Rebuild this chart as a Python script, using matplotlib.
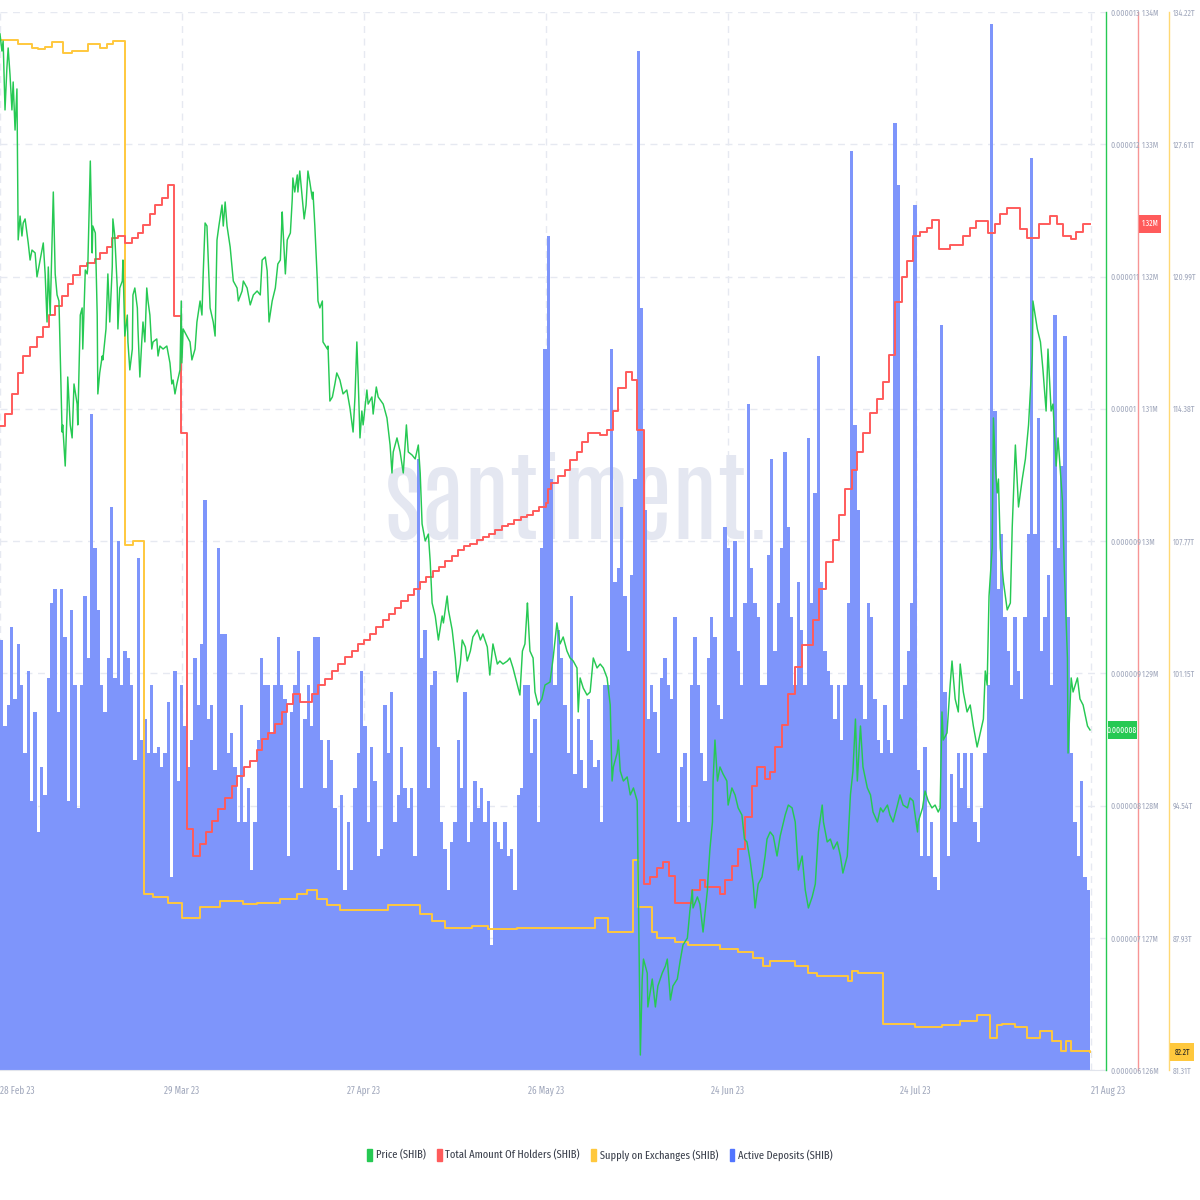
import datetime as dt
import numpy as np
import matplotlib
matplotlib.use("Agg")
import matplotlib.pyplot as plt
import matplotlib.dates as mdates
from matplotlib.patches import Patch, Rectangle
from matplotlib import font_manager
from matplotlib.ticker import FixedLocator, FixedFormatter

# ---- fonts: the reference uses a very narrow face, take the first one installed
avail = {f.name for f in font_manager.fontManager.ttflist}


def pick(cands, default="DejaVu Sans"):
    return next((c for c in cands if c in avail), default)


narrow = pick(["Fira Sans Extra Condensed", "Roboto Condensed", "Archivo Narrow",
               "Liberation Sans Narrow"])
wm_font = pick(["Antonio", "Oswald", "Roboto Condensed"], narrow)
plt.rcParams["font.family"] = [narrow, "DejaVu Sans"]

# ---- data (days after 28 Feb 2023)
date_ticks = [0, 29, 58, 87, 116, 146, 174]

price_day = [0.0, 0.3, 0.5, 0.8, 1.1, 1.3, 1.6, 1.9, 2.1, 2.4, 2.7, 2.9, 3.2, 3.5, 3.7, 4.0, 4.5, 4.8,
             5.1, 5.6, 5.9, 6.4, 6.9, 7.2, 7.5, 7.7, 8.0, 8.5, 8.8, 9.1, 9.4, 9.9, 10.0, 10.4, 10.7,
             10.8, 11.2, 11.5, 11.8, 12.3, 12.4, 12.8, 13.1, 13.2, 13.6, 13.9, 14.0, 14.4, 14.7, 14.8,
             15.2, 15.5, 15.6, 15.9, 16.3, 16.4, 16.9, 17.2, 17.5, 17.9, 18.0, 18.3, 18.7, 18.8, 19.1,
             19.5, 19.6, 19.9, 20.3, 20.4, 20.7, 21.1, 21.2, 21.5, 21.9, 22.0, 22.3, 22.6, 22.8, 23.1,
             23.4, 23.6, 23.9, 24.2, 24.4, 25.0, 25.2, 25.5, 26.0, 26.6, 27.1, 27.4, 27.6, 27.9, 28.2,
             28.7, 28.9, 29.0, 29.2, 29.8, 30.3, 30.6, 31.1, 31.4, 31.9, 32.2, 32.4, 32.7, 33.0, 33.5,
             34.0, 34.3, 34.6, 34.9, 35.4, 35.6, 35.9, 36.2, 36.7, 37.0, 37.2, 37.8, 38.0, 38.6, 38.8,
             39.4, 39.9, 40.4, 41.0, 41.5, 41.8, 42.3, 42.6, 42.9, 43.4, 43.9, 44.3, 44.7, 45.0, 45.1,
             45.5, 45.8, 46.3, 46.6, 46.7, 47.0, 47.4, 47.5, 47.8, 48.2, 48.5, 48.8, 49.1, 49.4, 49.8,
             49.9, 50.2, 50.6, 50.7, 51.0, 51.4, 51.5, 52.2, 52.3, 52.6, 53.0, 53.4, 53.7, 54.2, 54.7,
             55.3, 55.8, 56.3, 56.6, 56.9, 57.1, 57.4, 57.7, 57.9, 58.5, 58.7, 59.3, 59.5, 60.0, 60.3,
             61.1, 61.7, 62.2, 62.5, 62.7, 63.3, 63.8, 64.3, 64.8, 65.1, 65.7, 66.2, 66.7, 67.0, 67.3,
             67.8, 68.3, 68.6, 68.9, 69.4, 69.9, 70.5, 70.7, 71.3, 71.5, 72.1, 72.6, 72.9, 73.4, 73.7,
             74.2, 74.5, 75.0, 75.4, 76.1, 76.6, 77.0, 77.7, 78.1, 78.6, 79.3, 79.7, 80.2, 80.9, 81.3,
             81.8, 82.5, 82.9, 83.3, 83.7, 84.1, 84.2, 84.5, 85.0, 85.3, 85.8, 86.4, 86.9, 87.7, 88.2,
             88.8, 89.3, 89.8, 90.4, 90.9, 91.4, 92.0, 92.2, 92.5, 93.0, 93.6, 94.1, 94.6, 95.2, 95.7,
             96.2, 96.8, 97.3, 97.6, 97.8, 98.4, 98.6, 98.9, 99.4, 100.0, 100.5, 101.0, 101.6, 101.8,
             102.1, 102.4, 102.6, 103.2, 103.3, 104.0, 104.5, 104.9, 105.6, 106.1, 106.4, 106.9, 107.3,
             108.0, 108.5, 108.9, 109.6, 110.0, 110.4, 110.5, 111.2, 111.6, 112.1, 112.8, 112.9, 113.2,
             113.6, 113.7, 114.0, 114.4, 114.8, 115.3, 115.9, 116.1, 116.7, 117.2, 117.7, 118.3, 118.7,
             119.1, 119.6, 120.1, 120.4, 120.9, 121.5, 122.0, 122.3, 122.8, 123.3, 123.9, 124.4, 125.2,
             125.7, 126.3, 126.8, 127.3, 127.9, 128.4, 128.9, 129.5, 130.0, 130.5, 131.1, 131.3, 131.9,
             132.4, 132.9, 133.5, 134.0, 134.4, 135.1, 135.6, 136.0, 136.4, 136.7, 137.2, 137.6, 138.3,
             138.8, 139.2, 139.9, 140.4, 140.8, 141.5, 141.9, 142.4, 143.1, 143.5, 144.0, 144.7, 145.1,
             145.6, 146.3, 146.4, 147.1, 147.5, 148.0, 148.6, 149.1, 149.6, 149.9, 150.2, 150.4, 151.0,
             151.5, 151.8, 152.3, 152.8, 153.1, 153.6, 154.2, 154.7, 155.2, 155.8, 156.3, 156.8, 157.1,
             157.4, 157.7, 158.2, 158.4, 158.7, 159.0, 159.2, 159.5, 160.0, 160.6, 161.1, 161.4, 161.9,
             162.4, 163.0, 163.5, 164.0, 164.6, 164.7, 165.4, 165.9, 166.3, 166.8, 167.1, 167.6, 167.9,
             168.4, 168.7, 169.4, 169.7, 170.2, 170.3, 170.8, 171.1, 171.8, 172.2, 172.7, 173.4, 173.8]
# price in millionths of a dollar
price_u = [12.855, 12.742, 12.808, 12.352, 12.630, 12.762, 12.583, 12.352, 12.537, 12.219, 12.491,
           11.492, 11.650, 11.518, 11.604, 11.631, 11.472, 11.359, 11.425, 11.406, 11.247, 11.359,
           11.472, 11.267, 10.949, 11.313, 10.995, 11.809, 11.267, 11.128, 11.088, 10.221, 10.268,
           9.996, 10.360, 10.585, 10.268, 10.182, 10.539, 10.406, 10.268, 10.995, 11.042, 10.770,
           11.293, 11.267, 11.313, 12.014, 11.406, 11.584, 11.538, 10.995, 10.473, 10.612, 10.724,
           10.698, 10.903, 11.267, 10.949, 11.313, 11.631, 11.518, 11.174, 10.903, 11.174, 11.220,
           11.359, 10.856, 10.995, 10.817, 10.632, 10.770, 11.128, 11.174, 11.042, 10.903, 10.585,
           10.817, 10.949, 10.817, 11.174, 11.088, 10.995, 10.770, 10.817, 10.837, 10.724, 10.790,
           10.770, 10.790, 10.678, 10.539, 10.565, 10.473, 10.539, 10.632, 11.088, 10.678, 10.903,
           10.856, 10.817, 10.698, 10.770, 10.949, 11.088, 10.995, 11.267, 11.604, 11.584, 11.042,
           10.949, 10.856, 11.492, 11.584, 11.723, 11.584, 11.743, 11.584, 11.445, 11.313, 11.220,
           11.174, 11.088, 11.154, 11.220, 11.174, 11.062, 11.128, 11.154, 11.128, 11.359, 11.379,
           11.287, 10.949, 11.088, 11.174, 11.333, 11.359, 11.677, 11.584, 11.267, 11.492, 11.538,
           11.763, 11.902, 11.809, 11.922, 11.809, 11.948, 11.763, 11.631, 11.723, 11.948, 11.875,
           11.763, 11.809, 11.584, 11.220, 11.088, 11.042, 11.088, 10.817, 10.770, 10.790, 10.426,
           10.453, 10.539, 10.612, 10.565, 10.473, 10.499, 10.380, 10.221, 10.453, 10.817, 10.585,
           10.182, 10.360, 10.268, 10.499, 10.406, 10.453, 10.340, 10.519, 10.453, 10.406, 10.314,
           10.135, 9.950, 10.089, 10.182, 10.089, 9.950, 10.268, 10.089, 10.069, 10.043, 10.135,
           9.950, 9.613, 9.500, 9.546, 9.361, 9.090, 9.004, 8.845, 9.004, 8.958, 9.136, 9.044,
           8.911, 8.726, 8.567, 8.686, 8.845, 8.799, 8.706, 8.772, 8.865, 8.911, 8.845, 8.885,
           8.799, 8.613, 8.819, 8.686, 8.706, 8.686, 8.706, 8.726, 8.660, 8.547, 8.481, 8.772,
           8.819, 9.090, 9.004, 8.772, 8.726, 8.501, 8.415, 8.455, 8.547, 8.567, 8.726, 8.958,
           8.819, 8.865, 8.772, 8.726, 8.706, 8.660, 8.369, 8.594, 8.527, 8.481, 8.501, 8.726,
           8.660, 8.686, 8.660, 8.594, 8.415, 7.912, 8.005, 8.097, 8.183, 7.978, 7.912, 7.939,
           7.820, 7.866, 7.780, 7.145, 6.099, 6.602, 6.734, 6.642, 6.417, 6.602, 6.417, 6.556,
           6.642, 6.688, 6.734, 6.463, 6.556, 6.602, 6.734, 6.827, 6.873, 7.052, 7.191, 7.072,
           7.145, 7.098, 6.913, 7.191, 7.277, 7.462, 7.641, 7.912, 8.183, 7.912, 8.005, 7.958,
           7.912, 7.753, 7.866, 7.820, 7.734, 7.687, 7.528, 7.509, 7.389, 7.231, 7.072, 7.231,
           7.277, 7.416, 7.528, 7.575, 7.548, 7.416, 7.548, 7.687, 7.753, 7.734, 7.641, 7.323,
           7.416, 7.191, 7.072, 7.145, 7.231, 7.575, 7.753, 7.641, 7.509, 7.528, 7.462, 7.509,
           7.416, 7.303, 7.416, 7.820, 7.978, 8.322, 7.912, 8.276, 8.005, 7.866, 7.820, 7.707,
           7.641, 7.734, 7.707, 7.753, 7.687, 7.641, 7.753, 7.820, 7.753, 7.734, 7.800, 7.780,
           7.575, 7.641, 7.734, 7.846, 7.780, 7.734, 7.753, 7.707, 7.734, 8.369, 8.183, 8.230,
           8.547, 8.706, 8.455, 8.369, 8.686, 8.501, 8.369, 8.415, 8.276, 8.137, 8.230, 8.322,
           8.640, 8.547, 9.136, 9.454, 10.314, 9.996, 9.818, 9.910, 9.454, 9.229, 9.044, 9.090,
           9.593, 10.135, 9.725, 9.910, 10.043, 10.268, 10.724, 11.088, 10.903, 10.817, 10.632,
           10.360, 10.770, 10.360, 10.406, 9.996, 10.182, 9.771, 9.321, 8.726, 8.097, 8.594,
           8.501, 8.594, 8.455, 8.415, 8.276, 8.250]

holders_day = [0.0, 0.8, 1.9, 2.9, 3.7, 4.8, 5.9, 6.9, 7.8, 8.8, 9.9, 10.8, 11.6, 12.8, 13.9, 15.2,
               15.9, 17.1, 17.9, 18.8, 19.9, 21.1, 22.0, 22.8, 23.9, 24.7, 25.8, 26.8, 27.8, 28.9,
               29.8, 30.8, 31.9, 32.9, 33.8, 34.8, 35.9, 37.0, 37.8, 38.9, 39.9, 41.0, 41.8, 42.7,
               43.9, 45.0, 45.8, 46.7, 47.8, 49.8, 50.7, 51.8, 53.0, 53.9, 55.0, 56.1, 57.1,
               58, 59, 60, 61, 62, 63, 64, 65, 66, 67, 68, 69, 70, 71, 72, 73, 74, 75, 76, 77,
               78, 79, 80, 81, 82, 83, 84, 85, 86, 87, 87.3, 87.8, 89.0, 90.1, 90.9, 92.0, 92.8,
               93.8, 95.7, 96.8, 97.8, 98.6, 99.8, 100.8, 101.6, 102.7, 103.7, 104.8, 105.7, 106.7,
               107.7, 110.4, 111.6, 112.4, 114.8, 115.6, 116.7, 117.7, 118.8, 119.9, 120.7, 121.9,
               122.8, 123.6, 124.7, 125.7, 126.8, 127.9, 129.7, 130.6, 131.7, 132.9, 133.7, 134.8,
               135.9, 136.7, 137.6, 138.8, 139.9, 140.8, 141.8, 142.7, 143.9, 144.7, 145.6, 146.7,
               147.8, 148.6, 149.8, 151.5, 153.6, 154.7, 155.7, 157.6, 158.7, 159.5, 160.6, 162.7,
               163.8, 165.6, 167.5, 168.6, 169.5, 170.7, 171.6, 172.7, 173.8]
# holders in thousands
holders_k = [1308.7, 1309.6, 1311.1, 1312.7, 1314.0, 1314.7, 1315.4, 1316.2, 1317.1, 1317.8, 1318.5,
             1319.4, 1320.1, 1320.8, 1321.0, 1321.3, 1321.8, 1322.2, 1322.9, 1323.1, 1322.5, 1322.9,
             1323.3, 1323.9, 1324.7, 1325.4, 1325.9, 1326.9, 1317.0, 1308.2, 1278.2, 1276.2, 1277.1,
             1278.0, 1278.8, 1279.7, 1280.6, 1281.5, 1282.2, 1282.9, 1283.4, 1284.2, 1285.0, 1285.5,
             1286.2, 1287.1, 1287.7, 1288.4, 1287.8, 1288.4, 1289.1, 1289.6, 1290.2, 1290.7, 1291.2,
             1291.7, 1292.2,
             1292.5, 1293.0, 1293.5, 1294.0, 1294.5, 1294.9, 1295.5, 1295.9, 1296.4, 1296.9, 1297.3,
             1297.7, 1298.0, 1298.5, 1298.9, 1299.3, 1299.6, 1299.8, 1300.1, 1300.3, 1300.5, 1300.8,
             1301.1, 1301.3, 1301.6, 1301.8, 1302.0, 1302.3, 1302.6, 1302.9, 1303.9, 1304.4, 1304.9,
             1305.4, 1306.1, 1306.7, 1307.5, 1308.2, 1308.0, 1308.4, 1309.8, 1311.6, 1312.8, 1312.2,
             1308.4, 1274.1, 1274.6, 1275.3, 1275.7, 1274.7, 1272.6, 1273.6, 1274.4, 1273.8, 1273.3,
             1274.4, 1275.4, 1276.7, 1279.1, 1281.5, 1282.9, 1282.0, 1282.5, 1284.4, 1286.1, 1288.4,
             1290.5, 1292.1, 1294.0, 1296.4, 1298.4, 1300.1, 1302.0, 1303.9, 1305.4, 1306.7, 1308.2,
             1309.7, 1310.7, 1312.0, 1314.1, 1318.1, 1320.0, 1321.2, 1323.1, 1323.4, 1323.7, 1324.3,
             1322.1, 1322.4, 1323.1, 1323.7, 1324.2, 1323.3, 1324.0, 1324.7, 1325.2, 1323.6, 1322.9,
             1324.0, 1324.6, 1324.0, 1323.1, 1322.8, 1323.4, 1324.0, 1324.0]

supply_day = [0.0, 2.9, 5.1, 6.1, 7.2, 8.3, 10.0, 11.5, 14.0, 15.9, 17.1, 18.0, 19.9, 21.2, 23.0, 24.4,
              26.8, 29.0, 31.9, 35.1, 38.8, 41.0, 44.7, 47.4, 49.0, 50.6, 52.2, 54.2, 61.9, 67.0,
              68.9, 71.0, 75.3, 77.8, 82.5, 94.9, 97.0, 101.0, 101.8, 104.0, 104.8, 107.7, 109.7,
              114.8, 117.7, 120.1, 121.7, 122.8, 126.8, 128.9, 130.3, 135.2, 135.9, 136.8, 140.8,
              145.9, 150.2, 153.1, 155.8, 157.9, 159.0, 159.8, 161.9, 163.8, 165.9, 167.8, 169.1,
              169.9, 170.7, 173.8]
# supply in trillions
supply_t = [132.81, 132.61, 132.41, 132.36, 132.46, 132.71, 132.16, 132.26, 132.61, 132.41, 132.61,
            132.76, 107.56, 107.76, 90.11, 89.96, 89.66, 88.91, 89.46, 89.76, 89.61, 89.66, 89.86,
            90.11, 90.31, 89.86, 89.56, 89.31, 89.56, 89.11, 88.76, 88.41, 88.51, 88.36, 88.41,
            88.91, 88.21, 91.81, 89.46, 88.21, 87.91, 87.71, 87.56, 87.36, 87.21, 86.91, 86.51,
            86.76, 86.51, 86.16, 86.01, 85.76, 86.26, 86.16, 83.61, 83.46, 83.56, 83.76, 84.06,
            82.91, 83.56, 83.61, 83.46, 82.91, 83.26, 82.76, 82.26, 82.76, 82.26, 82.2]

# active deposits, evenly spaced through the period
deposits = [430, 344, 365, 443, 371, 426, 385, 317, 399, 269, 358, 238, 303, 275, 392, 467, 481, 358,
            481, 433, 269, 460, 385, 262, 385, 474, 412, 656, 522, 460, 385, 358, 412, 563, 392, 529,
            385, 419, 412, 385, 310, 512, 330, 351, 317, 385, 317, 323, 303, 317, 368, 193, 399, 289,
            385, 344, 303, 330, 412, 365, 426, 570, 351, 365, 300, 522, 436, 436, 317, 337, 303, 248,
            365, 248, 282, 200, 248, 330, 412, 385, 385, 337, 385, 433, 385, 371, 214, 358, 385, 419,
            282, 351, 385, 344, 433, 433, 330, 282, 330, 310, 262, 200, 275, 180, 248, 200, 282, 317,
            399, 344, 248, 323, 289, 214, 221, 365, 317, 378, 248, 275, 323, 282, 262, 282, 214, 611,
            412, 440, 282, 385, 399, 323, 248, 221, 180, 228, 248, 330, 282, 378, 228, 248, 289, 262,
            282, 248, 269, 125, 248, 228, 221, 248, 214, 221, 180, 275, 282, 385, 385, 317, 351, 248,
            522, 721, 834, 591, 385, 440, 412, 365, 317, 474, 296, 351, 310, 282, 371, 330, 303, 310,
            248, 385, 385, 721, 488, 502, 563, 474, 419, 495, 591, 1019, 762, 560, 351, 385, 358, 317,
            392, 412, 385, 371, 453, 248, 303, 317, 248, 385, 433, 385, 317, 289, 412, 453, 433, 365,
            351, 543, 522, 453, 529, 419, 385, 467, 666, 502, 467, 453, 385, 385, 515, 611, 419, 467,
            522, 618, 543, 453, 385, 488, 440, 385, 632, 467, 577, 714, 488, 419, 399, 385, 351, 385,
            330, 385, 467, 919, 645, 560, 385, 351, 467, 453, 371, 330, 317, 365, 330, 317, 947, 885,
            351, 385, 419, 467, 865, 300, 214, 323, 214, 248, 193, 180, 745, 378, 214, 296, 248, 317,
            282, 317, 262, 317, 248, 228, 262, 317, 385, 1046, 659, 481, 536, 453, 419, 385, 453, 399,
            371, 453, 536, 912, 536, 652, 419, 453, 495, 385, 755, 522, 604, 734, 453, 317, 248, 214,
            289, 193, 180]

price_ticks = ["0.000006", "0.000007", "0.000008", "0.000009", "0.000009",
               "0.00001", "0.000011", "0.000012", "0.000013"]
holders_ticks = ["1.26M", "1.27M", "1.28M", "1.29M", "1.3M", "1.31M", "1.32M", "1.33M", "1.34M"]
supply_ticks = ["81.31T", "87.93T", "94.54T", "101.15T", "107.77T", "114.38T", "120.99T",
                "127.61T", "134.22T"]
series_names = ["Price (SHIB)", "Total Amount Of Holders (SHIB)", "Supply on Exchanges (SHIB)",
                "Active Deposits (SHIB)"]

GREEN, RED, YELLOW, BLUE = "#26c953", "#ff5b5b", "#ffc83d", "#5275ff"
BAR = "#7e95fb"
TXT = "#a2a9bd"
GRID = "#e6e9f1"

base = mdates.date2num(dt.datetime(2023, 2, 28))
end_day = 173.8
px_per_day = 1090 / end_day

fig = plt.figure(figsize=(12, 12), dpi=100)
ax = fig.add_axes([0, 1 - 1070 / 1200, 1106 / 1200, 1058 / 1200])
ax_s = ax.twinx()
ax_h = ax.twinx()
ax_p = ax.twinx()

# bars
n = len(deposits)
step = end_day / n
bx = base + (np.arange(n) + 0.5) * step
ax.bar(bx, deposits, width=step, color=BAR, linewidth=0, zorder=2)
ax.set_ylim(0, 1058)
ax.set_xlim(base, base + 1106 / px_per_day)
ax.set_yticks(np.linspace(0, 1058, 9))
ax.set_axisbelow(True)
ax.grid(True, color=GRID, lw=1, ls=(0, (5, 4)))
ax.tick_params(axis="y", left=False, labelleft=False)
for s in ["left", "right", "top"]:
    ax.spines[s].set_visible(False)
ax.spines["bottom"].set_color("#e1e4ec")
ax.xaxis.set_major_locator(FixedLocator([base + d for d in date_ticks]))
ax.xaxis.set_major_formatter(mdates.DateFormatter("%d %b %y"))
ax.tick_params(axis="x", length=0, pad=11, labelsize=7.2, labelcolor=TXT)
xl = ax.get_xticklabels()
xl[0].set_ha("left")
xl[-1].set_ha("left")

ax.text(0.523, 0.535, "santiment.", transform=ax.transAxes, ha="center", va="center",
        fontsize=70, fontweight="light", color="#e4e7f1", zorder=1, family=wm_font)

# lines
ax_s.plot(base + np.array(supply_day), np.array(supply_t) * 1e12, color=YELLOW, lw=1.4,
          drawstyle="steps-post")
ax_h.plot(base + np.array(holders_day), np.array(holders_k) * 1e3, color=RED, lw=1.4,
          drawstyle="steps-post")
ax_p.plot(base + np.array(price_day), np.array(price_u) * 1e-6, color=GREEN, lw=1.05)

spine_px = [1106, 1137.7, 1168.7]
axes_info = [
    (ax_p, 6e-6, 13e-6, price_ticks, GREEN),
    (ax_h, 1.26e6, 1.34e6, holders_ticks, "#f79595"),
    (ax_s, 81.3125e12, 134.2225e12, supply_ticks, "#ffd873"),
]
for (a, lo, hi, labels, col), sx in zip(axes_info, spine_px):
    a.set_ylim(lo, hi)
    a.yaxis.set_major_locator(FixedLocator(np.linspace(lo, hi, 9)))
    a.yaxis.set_major_formatter(FixedFormatter(labels))
    a.tick_params(axis="y", length=0, pad=3, labelsize=6.1, labelcolor=TXT)
    for s in ["left", "top", "bottom"]:
        a.spines[s].set_visible(False)
    a.spines["right"].set_position(("axes", sx / 1106))
    a.spines["right"].set_color(col)
    a.spines["right"].set_linewidth(1)

# last value tags: coloured boxes sitting just right of each spine
tags = [
    (ax_p, price_u[-1] * 1e-6, f"{price_u[-1] * 1e-6:.6f}", GREEN, "white", 29),
    (ax_h, holders_k[-1] * 1e3, f"{holders_k[-1] / 1000:.2f}M", RED, "white", 22),
    (ax_s, supply_t[-1] * 1e12, f"{supply_t[-1]:.1f}T", YELLOW, "#222222", 24),
]
for (a, val, lab, fc, tc, w), sx in zip(tags, spine_px):
    ypx = a.transData.transform((base, val))[1]
    x0 = sx + 1.5
    fig.add_artist(Rectangle((x0 / 1200, (ypx - 9) / 1200), w / 1200, 18 / 1200,
                             transform=fig.transFigure, fc=fc, ec="none", zorder=5))
    fig.text((x0 + w / 2) / 1200, ypx / 1200, lab, ha="center", va="center", fontsize=5.9,
             color=tc, zorder=6)

handles = [Patch(color=c) for c in [GREEN, RED, YELLOW, BLUE]]
fig.legend(handles, series_names, loc="center", bbox_to_anchor=(0.5, 1 - 1155 / 1200), ncol=4,
           frameon=False, handlelength=0.4, handleheight=1.2, handletextpad=0.35,
           columnspacing=1.0, fontsize=8.2, labelcolor="#3b404c")

fig.savefig("out.png", dpi=100, facecolor="white")
